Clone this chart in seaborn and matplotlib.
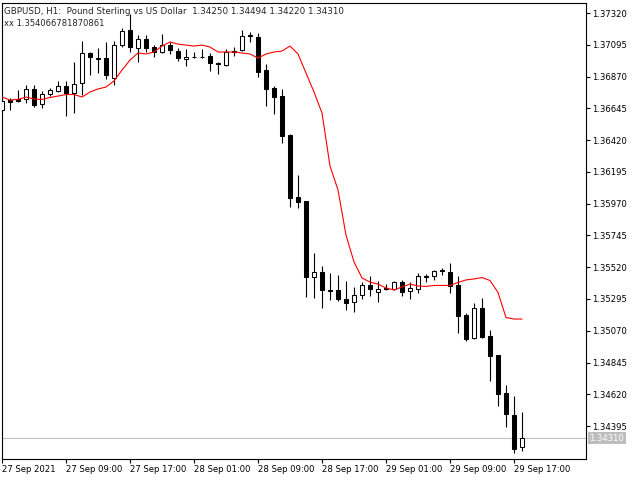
import numpy as np
import pandas as pd
import seaborn as sns
import matplotlib
matplotlib.use("Agg")
from matplotlib import pyplot as plt
import matplotlib.transforms as mtransforms

# GBPUSD H1 bars (oldest first)
opens = [1.36633, 1.36704, 1.36711, 1.36711, 1.36782, 1.36676, 1.36746, 1.36768, 1.36803, 1.36754,
         1.36824, 1.37037, 1.37001, 1.37001, 1.36860, 1.37093, 1.37200, 1.37072, 1.37136, 1.37079,
         1.37044, 1.37093, 1.37051, 1.36994, 1.37010, 1.37010, 1.37016, 1.36966, 1.36952, 1.37054,
         1.37058, 1.37161, 1.37150, 1.36916, 1.36789, 1.36732, 1.36456, 1.36017, 1.35989, 1.35451,
         1.35486, 1.35362, 1.35359, 1.35295, 1.35274, 1.35323, 1.35394, 1.35345, 1.35376, 1.35366,
         1.35415, 1.35352, 1.35366, 1.35461, 1.35458, 1.35497, 1.35486, 1.35394, 1.35182, 1.35019,
         1.35231, 1.35033, 1.34899, 1.34630, 1.34474, 1.34250]
highs = [1.36725, 1.36718, 1.36775, 1.36810, 1.36810, 1.36768, 1.36789, 1.36839, 1.36839, 1.36973,
         1.37122, 1.37044, 1.37072, 1.37115, 1.37122, 1.37214, 1.37313, 1.37164, 1.37164, 1.37093,
         1.37171, 1.37115, 1.37072, 1.37065, 1.37044, 1.37065, 1.37037, 1.36973, 1.37065, 1.37079,
         1.37200, 1.37185, 1.37178, 1.36959, 1.36803, 1.36782, 1.36463, 1.36173, 1.35989, 1.35621,
         1.35529, 1.35479, 1.35465, 1.35423, 1.35380, 1.35415, 1.35458, 1.35423, 1.35401, 1.35423,
         1.35430, 1.35415, 1.35479, 1.35472, 1.35500, 1.35515, 1.35550, 1.35458, 1.35196, 1.35267,
         1.35302, 1.35076, 1.34899, 1.34686, 1.34608, 1.34494]
lows = [1.36619, 1.36633, 1.36690, 1.36683, 1.36654, 1.36647, 1.36732, 1.36761, 1.36591, 1.36612,
        1.36739, 1.36881, 1.36895, 1.36853, 1.36810, 1.37079, 1.37044, 1.36973, 1.37044, 1.37008,
        1.37037, 1.37030, 1.36980, 1.36945, 1.37004, 1.37004, 1.36909, 1.36888, 1.36945, 1.37016,
        1.37051, 1.37115, 1.36867, 1.36662, 1.36605, 1.36400, 1.35946, 1.35939, 1.35309, 1.35302,
        1.35231, 1.35288, 1.35281, 1.35217, 1.35203, 1.35295, 1.35316, 1.35274, 1.35359, 1.35359,
        1.35316, 1.35295, 1.35338, 1.35415, 1.35430, 1.35465, 1.35338, 1.35054, 1.34998, 1.35012,
        1.35019, 1.34715, 1.34538, 1.34389, 1.34205, 1.34220]
closes = [1.36697, 1.36690, 1.36697, 1.36782, 1.36669, 1.36746, 1.36775, 1.36803, 1.36754, 1.36817,
          1.37037, 1.37008, 1.36994, 1.36881, 1.37093, 1.37193, 1.37079, 1.37136, 1.37072, 1.37044,
          1.37093, 1.37058, 1.37001, 1.37008, 1.37006, 1.37006, 1.36966, 1.36959, 1.37044, 1.37047,
          1.37157, 1.37154, 1.36902, 1.36782, 1.36725, 1.36449, 1.36010, 1.35982, 1.35451, 1.35486,
          1.35359, 1.35355, 1.35295, 1.35267, 1.35323, 1.35394, 1.35366, 1.35366, 1.35366, 1.35415,
          1.35345, 1.35373, 1.35458, 1.35454, 1.35493, 1.35490, 1.35387, 1.35175, 1.35012, 1.35231,
          1.35026, 1.34892, 1.34622, 1.34481, 1.34233, 1.34310]

# red indicator line ("xx")
xx_line = [1.36725, 1.36704, 1.36708, 1.36725, 1.36711, 1.36708, 1.36722, 1.36732, 1.36743, 1.36743,
           1.36725, 1.36761, 1.36782, 1.36796, 1.36839, 1.36916, 1.36987, 1.37037, 1.37030, 1.37044,
           1.37086, 1.37115, 1.37100, 1.37093, 1.37086, 1.37093, 1.37079, 1.37044, 1.37044, 1.37044,
           1.37037, 1.37030, 1.37001, 1.37030, 1.37044, 1.37051, 1.37086, 1.37030, 1.36895, 1.36761,
           1.36612, 1.36237, 1.36067, 1.35748, 1.35557, 1.35444, 1.35415, 1.35401, 1.35373, 1.35359,
           1.35380, 1.35401, 1.35387, 1.35384, 1.35391, 1.35391, 1.35391, 1.35412, 1.35430, 1.35437,
           1.35447, 1.35426, 1.35341, 1.35164, 1.35153, 1.35153]

time_ticks = [0, 8, 16, 24, 32, 40, 48, 56, 64]
time_labels = ['27 Sep 2021', '27 Sep 09:00', '27 Sep 17:00', '28 Sep 01:00', '28 Sep 09:00',
               '28 Sep 17:00', '29 Sep 01:00', '29 Sep 09:00', '29 Sep 17:00']
price_ticks = [1.37320, 1.37095, 1.36870, 1.36645, 1.36420, 1.36195, 1.35970,
               1.35745, 1.35520, 1.35295, 1.35070, 1.34845, 1.34620, 1.34395]
bid = 1.34310
title_line = 'GBPUSD, H1:  Pound Sterling vs US Dollar  1.34250 1.34494 1.34220 1.34310'
indicator_line = 'xx 1.354066781870861'

df = pd.DataFrame({'open': opens, 'high': highs, 'low': lows, 'close': closes, 'xx': xx_line})
df['bar'] = np.arange(len(df))
df['up'] = df['close'] >= df['open']

sns.set_style('white')
plt.rcParams['font.family'] = ['DejaVu Sans']

fig = plt.figure(figsize=(6.4, 4.8), dpi=100)
ax = fig.add_axes([2 / 640, 21 / 480, 584 / 640, 456 / 480])

# wicks
ax.vlines(df['bar'], df['low'], df['high'], color='black', linewidth=0.8, zorder=2)

# bodies: hollow for bullish, black for bearish
body = (df['close'] - df['open']).where(lambda s: s.abs() > 0.00003, 0.00003)
ax.bar(df['bar'], body, bottom=df['open'], width=0.6,
       color=np.where(df['up'], 'white', 'black'), edgecolor='black', linewidth=0.75, zorder=3)

sns.lineplot(x='bar', y='xx', data=df, color='red', linewidth=0.8, ax=ax, zorder=4)

ax.axhline(bid, color='#c0c0c0', linewidth=0.8, zorder=1)

ax.set_xlim(0, 73)
ax.set_ylim(1.34162, 1.37391)

ax.yaxis.tick_right()
ax.set_yticks(price_ticks)
ax.set_yticklabels([f'{p:.5f}' for p in price_ticks])
ax.set_xticks(time_ticks)
ax.set_xticklabels(time_labels, ha='left')
ax.tick_params(axis='both', direction='out', length=3, width=0.8, color='black',
               labelsize=6.1, labelcolor='black', pad=1.5)
ax.tick_params(axis='y', right=True, left=False)
ax.tick_params(axis='x', bottom=True)
ax.set_xlabel('')
ax.set_ylabel('')
ax.grid(False)

for side in ['left', 'right', 'top', 'bottom']:
    ax.spines[side].set_visible(True)
    ax.spines[side].set_color('black')
    ax.spines[side].set_linewidth(0.8)

# bid price label box on the price scale
trans = mtransforms.blended_transform_factory(ax.transAxes, ax.transData)
ax.text(1.006, bid, f'{bid:.5f}', transform=trans, ha='left', va='center', color='white',
        fontsize=6.1, clip_on=False,
        bbox=dict(boxstyle='square,pad=0.22', facecolor='#bdbdbd', edgecolor='none'))

ax.text(0.0034, 0.982, title_line, transform=ax.transAxes, ha='left', va='center', fontsize=6.3)
ax.text(0.0034, 0.956, indicator_line, transform=ax.transAxes, ha='left', va='center', fontsize=6.0)

fig.savefig('out.png', dpi=100, facecolor='white')
